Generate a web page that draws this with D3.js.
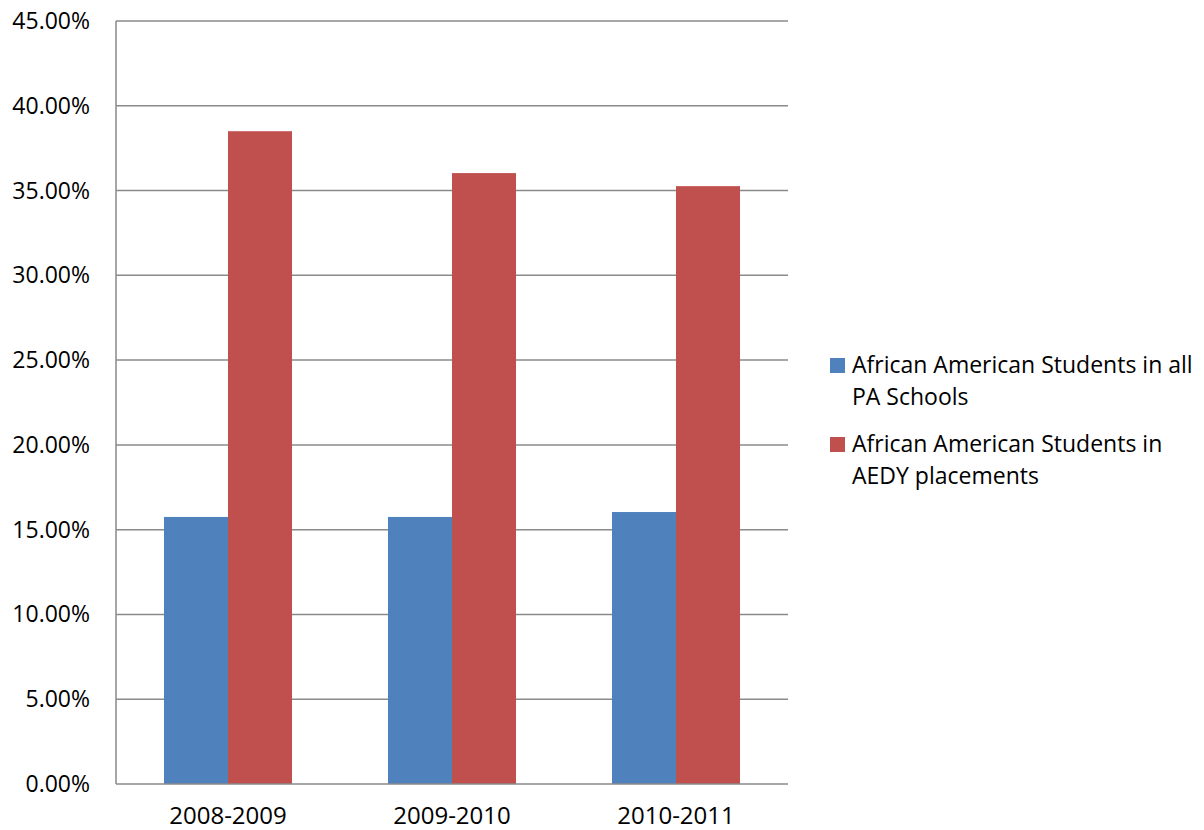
<!DOCTYPE html>
<html>
<head>
<meta charset="utf-8">
<script src="https://cdn.jsdelivr.net/npm/d3@7"></script>
<style>
  body { margin: 0; background: #fff; }
  text { font-family: "Open Sans", sans-serif; fill: #000; }
</style>
</head>
<body>
<div id="chart"></div>
<script>
const w = 1204;
const h = 830;

const years = ["2008-2009", "2009-2010", "2010-2011"];
const seriesNames = [
  ["African American Students in all", "PA Schools"],
  ["African American Students in", "AEDY placements"]
];
const allSchools = [0.1575, 0.1575, 0.1604];
const aedy = [0.385, 0.3603, 0.3526];
const yTicks = [0, 0.05, 0.10, 0.15, 0.20, 0.25, 0.30, 0.35, 0.40, 0.45];
const colors = ["#4F81BD", "#C0504D"];

const plotLeft = 116, plotRight = 788, plotTop = 21, plotBottom = 784;

const svg = d3.select("#chart").append("svg")
  .attr("width", w).attr("height", h);

const x = d3.scaleBand().domain(years).range([plotLeft, plotRight]);
const sub = d3.scaleBand().domain([0, 1]).range([0, x.bandwidth()]).paddingInner(0).paddingOuter(0.75);
const y = d3.scaleLinear().domain([0, 0.45]).range([plotBottom, plotTop]);

// grid
svg.append("g").selectAll("line")
  .data(yTicks.filter(d => d > 0))
  .enter().append("line")
  .attr("x1", plotLeft).attr("x2", plotRight)
  .attr("y1", d => y(d)).attr("y2", d => y(d))
  .attr("stroke", "#8a8a8a").attr("stroke-width", 1.5);

// bars
const rows = years.map((yr, i) => ({ yr, vals: [allSchools[i], aedy[i]] }));
svg.append("g").selectAll("g")
  .data(rows)
  .enter().append("g")
  .attr("transform", d => `translate(${x(d.yr)},0)`)
  .selectAll("rect")
  .data(d => d.vals)
  .enter().append("rect")
  .attr("x", (d, i) => sub(i))
  .attr("width", sub.bandwidth())
  .attr("y", d => y(d))
  .attr("height", d => y(0) - y(d))
  .attr("fill", (d, i) => colors[i]);

// axis lines
svg.append("line").attr("x1", plotLeft).attr("x2", plotLeft).attr("y1", plotTop).attr("y2", plotBottom)
  .attr("stroke", "#8a8a8a").attr("stroke-width", 1.5);
svg.append("line").attr("x1", plotLeft).attr("x2", plotRight).attr("y1", plotBottom).attr("y2", plotBottom)
  .attr("stroke", "#8a8a8a").attr("stroke-width", 1.5);

// y labels
svg.append("g").selectAll("text")
  .data(yTicks)
  .enter().append("text")
  .attr("x", 90).attr("y", d => y(d))
  .attr("dy", "0.35em")
  .attr("text-anchor", "end")
  .style("font-size", "23px")
  .text(d => d3.format(".2%")(d));

// x labels
svg.append("g").selectAll("text")
  .data(years)
  .enter().append("text")
  .attr("x", d => x(d) + x.bandwidth() / 2)
  .attr("y", 824)
  .attr("text-anchor", "middle")
  .style("font-size", "24px")
  .text(d => d);

// legend
const legend = svg.append("g");
const legendY = [365, 444];
seriesNames.forEach((lines, i) => {
  legend.append("rect")
    .attr("x", 830).attr("y", legendY[i] - 7)
    .attr("width", 15).attr("height", 15)
    .attr("fill", colors[i]);
  lines.forEach((t, j) => {
    legend.append("text")
      .attr("x", 852).attr("y", legendY[i] + j * 32)
      .attr("dy", "0.35em")
      .style("font-size", "23px")
      .text(t);
  });
});
</script>
</body>
</html>
